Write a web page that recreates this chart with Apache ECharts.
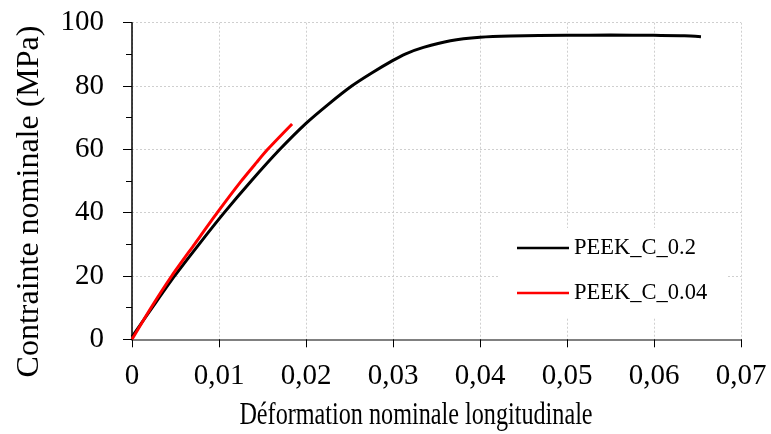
<!DOCTYPE html>
<html>
<head>
<meta charset="utf-8">
<script src="https://cdn.jsdelivr.net/npm/echarts@6/dist/echarts.min.js"></script>
<style>
html,body{margin:0;padding:0;background:#fff;}
#chart{width:771px;height:434px;}
</style>
</head>
<body>
<div id="chart"></div>
<script>
// Data
const seriesNames = ['PEEK_C_0.2', 'PEEK_C_0.04'];
const xTitle = 'Déformation nominale longitudinale';
const yTitle = 'Contrainte nominale (MPa)';
const strainBlack = [0, 0.0024, 0.0049, 0.0077, 0.0106, 0.0137, 0.0170, 0.0200, 0.0226, 0.02525, 0.0276, 0.0300, 0.0314, 0.0335, 0.0366, 0.0400, 0.0435, 0.0500, 0.0550, 0.0600, 0.0635, 0.0654];
const stressBlack = [0.8, 10.3, 20, 30, 40, 50, 60, 68.2, 74.3, 80, 84.2, 88.1, 90.1, 92.2, 94.3, 95.4, 95.8, 96.0, 96.1, 96.0, 95.9, 95.6];
const strainRed = [0, 0.00226, 0.00456, 0.0072, 0.0098, 0.0125, 0.0143, 0.0156, 0.0184];
const stressRed = [0, 10.3, 20, 30.1, 40, 49.8, 55.8, 60, 68];
const xTicks = [0, 0.01, 0.02, 0.03, 0.04, 0.05, 0.06, 0.07];
const yTicks = [0, 20, 40, 60, 80, 100];

const pairs = (xs, ys) => xs.map((x, i) => [x, ys[i]]);
const FONT = '"Liberation Serif", serif';

const chart = echarts.init(document.getElementById('chart'), null, {renderer: 'canvas'});
chart.setOption({
  animation: false,
  backgroundColor: '#ffffff',
  grid: {left: 132, right: 30, top: 22.7, bottom: 94.7, containLabel: false},
  legend: {
    orient: 'vertical',
    left: 500, top: 228,
    backgroundColor: '#ffffff',
    padding: [8, 19, 13, 17],
    icon: 'rect',
    itemWidth: 52, itemHeight: 2.5, itemGap: 21,
    textStyle: {fontFamily: FONT, fontSize: 22.5, color: '#000', lineHeight: 24},
    data: seriesNames
  },
  graphic: [
    {
      type: 'text', x: 416, y: 416, scaleX: 0.78, silent: true,
      style: {text: xTitle, x: 0, y: 0, fontFamily: FONT, fontSize: 31, fill: '#000', align: 'center', verticalAlign: 'middle'}
    },
    {
      type: 'text', x: 30, y: 201.5, rotation: Math.PI / 2, silent: true,
      style: {text: yTitle, x: 0, y: 0, fontFamily: FONT, fontSize: 32, fill: '#000', align: 'center', verticalAlign: 'middle'}
    }
  ],
  xAxis: {
    type: 'value',
    min: xTicks[0], max: xTicks[xTicks.length - 1], interval: 0.01,
    axisLine: {show: true, onZero: false, lineStyle: {color: '#808080', width: 2}},
    axisTick: {show: true, inside: false, length: 8, lineStyle: {color: '#000', width: 1}},
    axisLabel: {
      margin: 23, fontFamily: FONT, fontSize: 29, color: '#000',
      formatter: v => v === 0 ? '0' : v.toFixed(2).replace('.', ',')
    },
    splitLine: {show: true, lineStyle: {color: '#cfcfcf', width: 1, type: [2, 2]}}
  },
  yAxis: {
    type: 'value',
    min: yTicks[0], max: yTicks[yTicks.length - 1], interval: 20,
    axisLine: {show: true, onZero: false, lineStyle: {color: '#000', width: 1.5}},
    axisTick: {show: true, inside: false, length: 9, lineStyle: {color: '#000', width: 1}},
    minorTick: {show: true, splitNumber: 2, length: 6, lineStyle: {color: '#000', width: 1}},
    axisLabel: {margin: 28, fontFamily: FONT, fontSize: 29, color: '#000'},
    splitLine: {show: true, lineStyle: {color: '#cfcfcf', width: 1, type: [2, 2]}}
  },
  series: [
    {
      name: seriesNames[0], type: 'line', data: pairs(strainBlack, stressBlack),
      showSymbol: false, symbol: 'none', smooth: 0.25,
      lineStyle: {color: '#000000', width: 3}, itemStyle: {color: '#000000'}
    },
    {
      name: seriesNames[1], type: 'line', data: pairs(strainRed, stressRed),
      showSymbol: false, symbol: 'none', smooth: 0.25,
      lineStyle: {color: '#ff0000', width: 3}, itemStyle: {color: '#ff0000'}
    }
  ]
});
</script>
</body>
</html>
